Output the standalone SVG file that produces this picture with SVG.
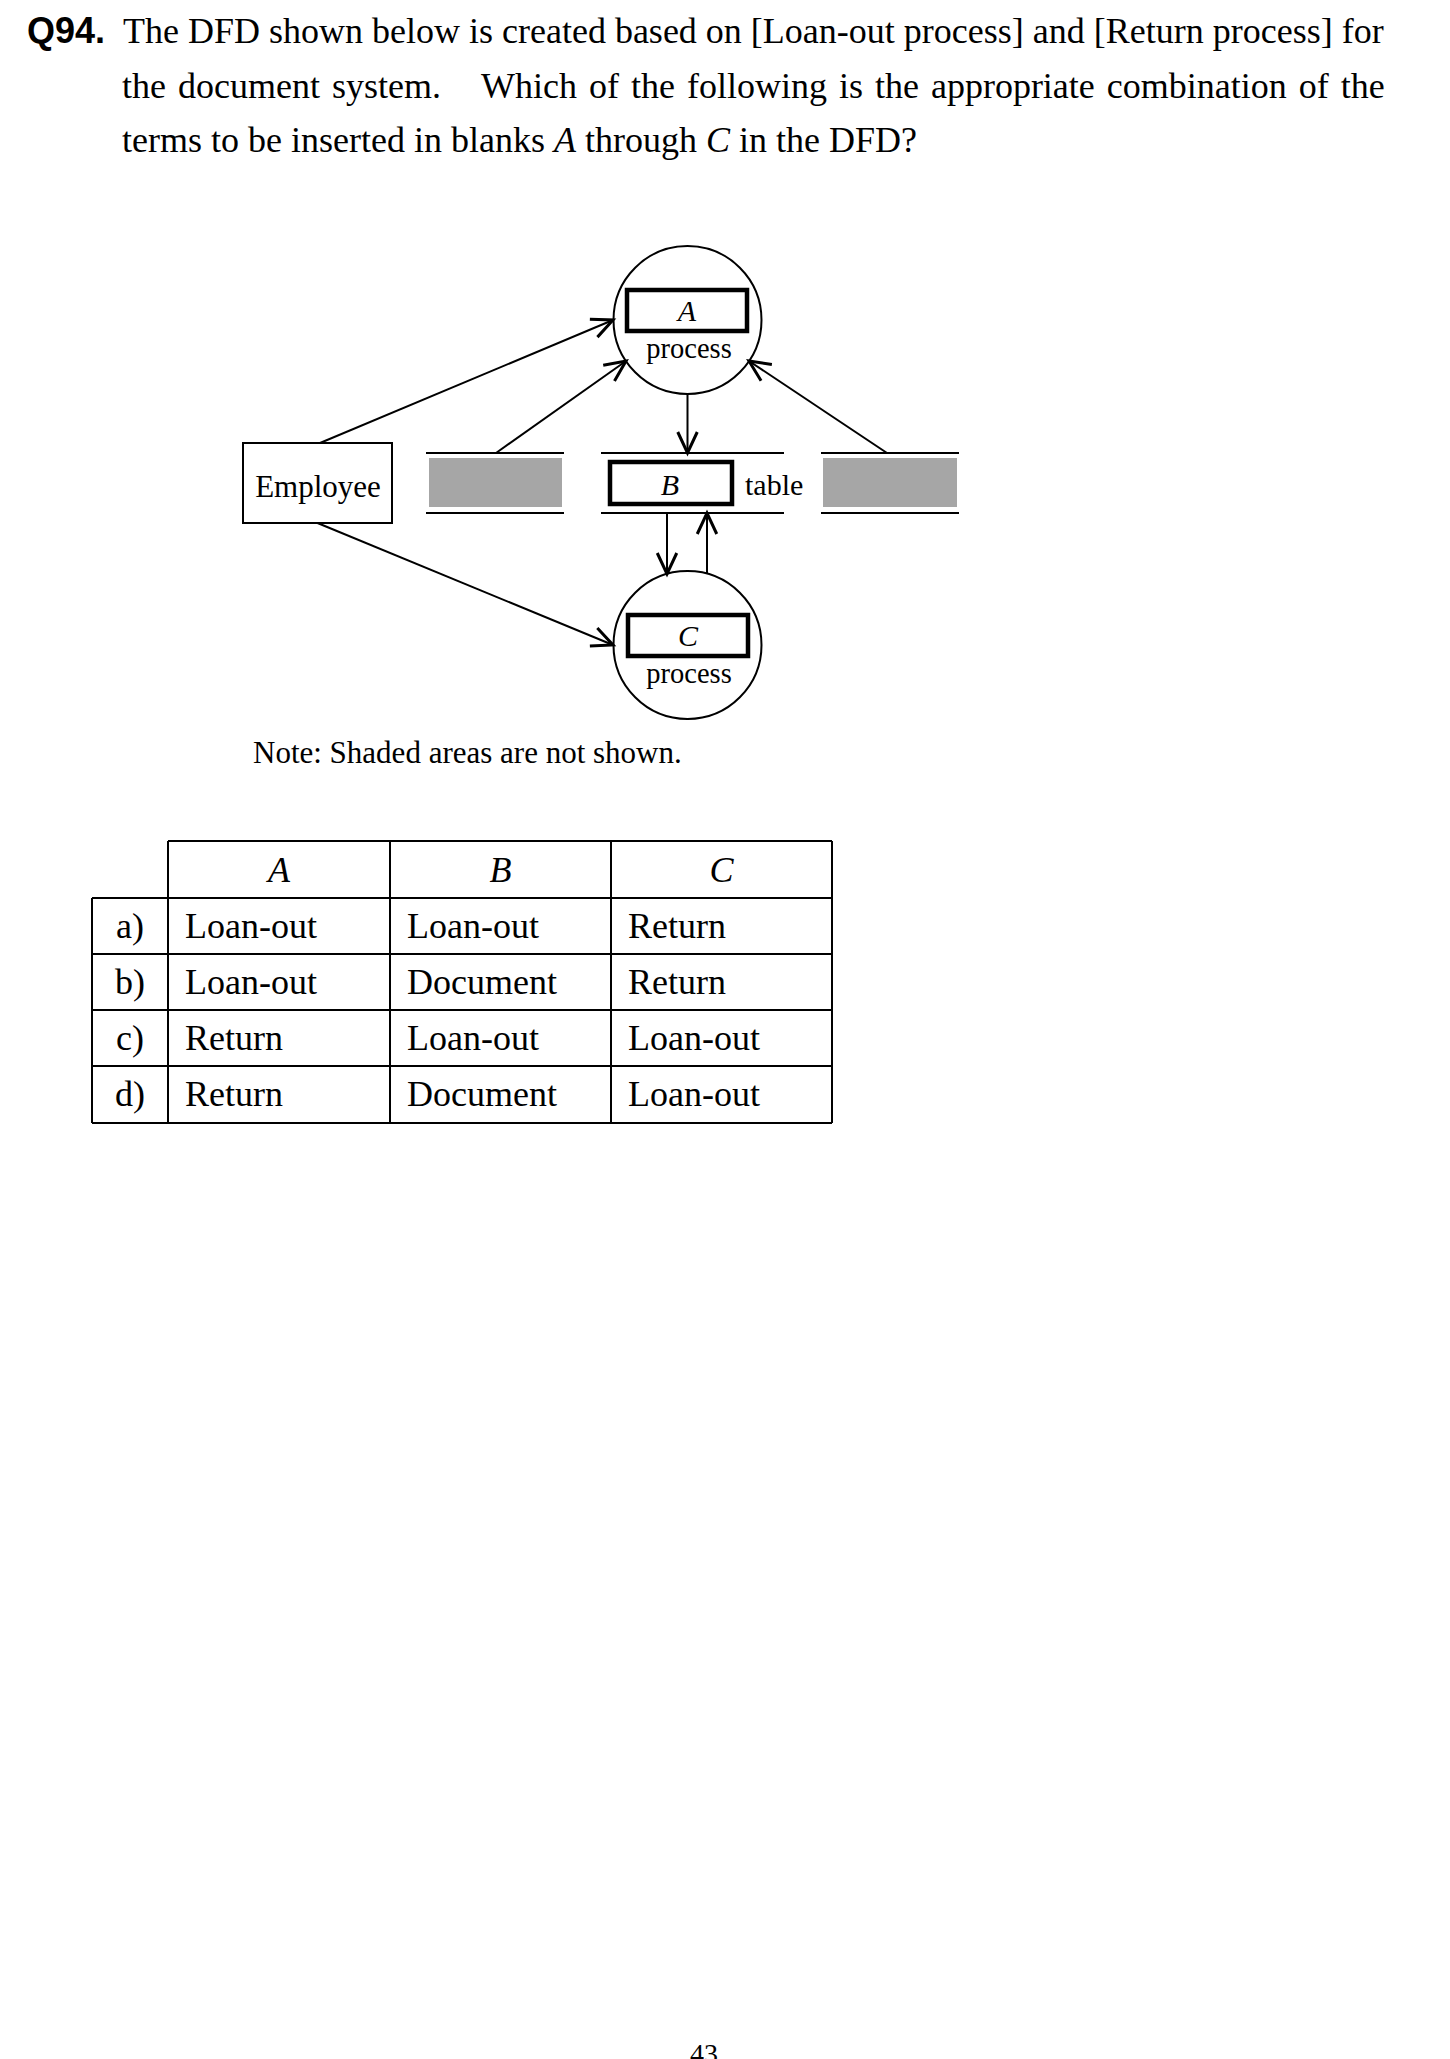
<svg xmlns="http://www.w3.org/2000/svg" width="1450" height="2059" viewBox="0 0 1450 2059">
<defs>
<style>
.t{font-family:"Liberation Serif","Times New Roman",serif;fill:#000}
.q{font-family:"Liberation Sans",Arial,sans-serif;font-weight:bold;fill:#000}
.i{font-style:italic}
.ln{stroke:#000;stroke-width:2;fill:none}
.thick{stroke:#000;stroke-width:4.5;fill:#fff}
.shade{fill:#a6a6a6;stroke:none}
.conn{stroke:#000;stroke-width:2;fill:none;marker-end:url(#arr)}
</style>
<marker id="arr" markerUnits="userSpaceOnUse" markerWidth="30" markerHeight="30" viewBox="-16 -10 20 20" refX="0" refY="0" orient="auto">
<path d="M-14,-6.5 L0,0 L-14,6.5" fill="none" stroke="#000" stroke-width="2"/>
</marker>
</defs>
<rect width="1450" height="2059" fill="#fff"/>

<g id="question">
<text class="q" x="27" y="43" font-size="36">Q94.</text>
<text class="t" x="123" y="43" font-size="36">The DFD shown below is created based on [Loan-out process] and [Return process] for</text>
<text class="t" x="122" y="98" font-size="36" word-spacing="3">the document system.</text>
<text class="t" x="481" y="98" font-size="36" word-spacing="3">Which of the following is the appropriate combination of the</text>
<text class="t" x="122" y="152" font-size="36">terms to be inserted in blanks <tspan class="i">A</tspan> through <tspan class="i">C</tspan> in the DFD?</text>
</g>

<g id="connectors">
<line class="conn" x1="320" y1="443" x2="613" y2="320"/>
<line class="conn" x1="496" y1="453" x2="626" y2="361"/>
<line class="conn" x1="687.5" y1="394" x2="687.5" y2="453"/>
<line class="conn" x1="887" y1="453" x2="749" y2="361"/>
<line class="conn" x1="317.5" y1="523" x2="613" y2="645"/>
<line class="conn" x1="667" y1="513" x2="667" y2="574"/>
<line class="conn" x1="707" y1="574" x2="707" y2="513"/>
</g>

<g id="process-A">
<circle class="ln" cx="687.5" cy="320" r="74"/>
<rect class="thick" x="627" y="290" width="120" height="41"/>
<text class="t i" x="687" y="321" font-size="30" text-anchor="middle">A</text>
<text class="t" x="689" y="358" font-size="28.5" text-anchor="middle">process</text>
</g>

<g id="process-C">
<circle class="ln" cx="687.5" cy="645" r="74"/>
<rect class="thick" x="628" y="615" width="120" height="41"/>
<text class="t i" x="688" y="646" font-size="30" text-anchor="middle">C</text>
<text class="t" x="689" y="683" font-size="28.5" text-anchor="middle">process</text>
</g>

<g id="employee">
<rect class="ln" x="243" y="443" width="149" height="80"/>
<text class="t" x="318" y="497" font-size="31" text-anchor="middle">Employee</text>
</g>

<g id="store-left">
<line class="ln" x1="426" y1="453" x2="564" y2="453"/>
<line class="ln" x1="426" y1="513" x2="564" y2="513"/>
<rect class="shade" x="429" y="458" width="133" height="49"/>
</g>

<g id="store-B">
<line class="ln" x1="601" y1="453" x2="784" y2="453"/>
<line class="ln" x1="601" y1="513" x2="784" y2="513"/>
<rect class="thick" x="610" y="462" width="122" height="42"/>
<text class="t i" x="670" y="495" font-size="30" text-anchor="middle">B</text>
<text class="t" x="745" y="495" font-size="30">table</text>
</g>

<g id="store-right">
<line class="ln" x1="821" y1="453" x2="959" y2="453"/>
<line class="ln" x1="821" y1="513" x2="959" y2="513"/>
<rect class="shade" x="823" y="458" width="134" height="49"/>
</g>

<g id="note">
<text class="t" x="253" y="763" font-size="31">Note: Shaded areas are not shown.</text>
</g>

<g id="answer-table">
<path class="ln" d="M168,841 H832 M92,898 H832 M92,954 H832 M92,1010 H832 M92,1066 H832 M92,1123 H832 M92,898 V1123 M168,841 V1123 M390,841 V1123 M611,841 V1123 M832,841 V1123"/>
<g class="t" font-size="36">
<text class="i" x="279" y="882" text-anchor="middle">A</text>
<text class="i" x="500.5" y="882" text-anchor="middle">B</text>
<text class="i" x="721.5" y="882" text-anchor="middle">C</text>
<text x="130" y="938" text-anchor="middle">a)</text>
<text x="130" y="994" text-anchor="middle">b)</text>
<text x="130" y="1050" text-anchor="middle">c)</text>
<text x="130" y="1106" text-anchor="middle">d)</text>
<text x="185" y="938">Loan-out</text>
<text x="185" y="994">Loan-out</text>
<text x="185" y="1050">Return</text>
<text x="185" y="1106">Return</text>
<text x="407" y="938">Loan-out</text>
<text x="407" y="994">Document</text>
<text x="407" y="1050">Loan-out</text>
<text x="407" y="1106">Document</text>
<text x="628" y="938">Return</text>
<text x="628" y="994">Return</text>
<text x="628" y="1050">Loan-out</text>
<text x="628" y="1106">Loan-out</text>
</g>
</g>

<g id="page-number">
<text class="t" x="704" y="2063" font-size="28" text-anchor="middle">43</text>
</g>
</svg>
